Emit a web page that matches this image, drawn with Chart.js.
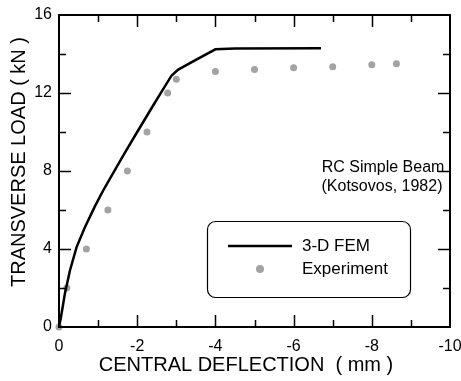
<!DOCTYPE html>
<html>
<head>
<meta charset="utf-8">
<script src="https://cdn.jsdelivr.net/npm/chart.js@4.4.1/dist/chart.umd.min.js"></script>
<style>
  body { margin: 0; background: #fff; }
  #wrap { width: 461px; height: 381px; position: relative; }
</style>
</head>
<body>
<div id="wrap"><canvas id="chart"></canvas></div>
<script>
// 3-D FEM curve
const femX = [0, -0.05, -0.15, -0.28, -0.45, -0.66, -0.92, -1.13, -1.3, -1.69, -2.0, -2.45, -2.88, -3.05, -3.5, -4.0, -4.5, -6.7];
const femY = [0, 0.5, 1.7, 2.9, 4.1, 5.1, 6.2, 7.0, 7.6, 8.95, 10.0, 11.5, 12.9, 13.2, 13.7, 14.24, 14.28, 14.3];

// experiment points
const expX = [0, -0.2, -0.7, -1.25, -1.75, -2.25, -2.78, -3.0, -4.0, -5.0, -6.0, -7.0, -8.0, -8.63];
const expY = [0, 2, 4, 6, 8, 10, 12, 12.7, 13.1, 13.2, 13.3, 13.35, 13.45, 13.5];

const xTicks = [0, -2, -4, -6, -8, -10];
const yTicks = [0, 4, 8, 12, 16];

const FONT = "'Liberation Sans', Arial, sans-serif";
const GREY = "#a3a3a3";

const toPoints = (xs, ys) => xs.map((x, i) => ({ x: x, y: ys[i] }));

// frame, inward ticks, titles, note and legend
const decor = {
  id: "decor",
  afterDraw(chart) {
    const ctx = chart.ctx;
    const a = chart.chartArea;
    const sx = chart.scales.x;
    const sy = chart.scales.y;
    ctx.save();
    ctx.strokeStyle = "#000";
    ctx.lineWidth = 2;
    ctx.strokeRect(a.left, a.top, a.right - a.left, a.bottom - a.top);

    ctx.lineWidth = 1.5;
    ctx.beginPath();
    for (let v = -1; v > -10; v--) {
      const px = Math.round(sx.getPixelForValue(v)) + 0.5;
      const len = v % 2 === 0 ? 12 : 7;
      ctx.moveTo(px, a.bottom); ctx.lineTo(px, a.bottom - len);
      ctx.moveTo(px, a.top); ctx.lineTo(px, a.top + len);
    }
    for (let v = 2; v < 16; v += 2) {
      const py = Math.round(sy.getPixelForValue(v)) + 0.5;
      const len = v % 4 === 0 ? 12 : 7;
      ctx.moveTo(a.left, py); ctx.lineTo(a.left + len, py);
      ctx.moveTo(a.right, py); ctx.lineTo(a.right - len, py);
    }
    ctx.stroke();

    ctx.fillStyle = "#000";
    ctx.textBaseline = "middle";
    ctx.font = "20px " + FONT;
    ctx.textAlign = "center";
    ctx.fillText("CENTRAL DEFLECTION  ( mm )", 246, 365);
    ctx.save();
    ctx.translate(19, 162);
    ctx.rotate(-Math.PI / 2);
    ctx.fillText("TRANSVERSE LOAD ( kN )", 0, 0);
    ctx.restore();

    ctx.font = "16px " + FONT;
    ctx.fillText("RC Simple Beam", 383, 168);
    ctx.fillText("(Kotsovos, 1982)", 382, 187);

    // legend box
    ctx.lineWidth = 1.2;
    ctx.beginPath();
    ctx.roundRect(207.5, 221.5, 203, 76, 8);
    ctx.stroke();
    ctx.lineWidth = 2.5;
    ctx.beginPath();
    ctx.moveTo(228, 246); ctx.lineTo(292, 246);
    ctx.stroke();
    ctx.fillStyle = GREY;
    ctx.beginPath();
    ctx.arc(260, 269, 4, 0, Math.PI * 2);
    ctx.fill();
    ctx.fillStyle = "#000";
    ctx.textAlign = "left";
    ctx.font = "17px " + FONT;
    ctx.fillText("3-D FEM", 302, 246);
    ctx.fillText("Experiment", 302, 269);
    ctx.restore();
  }
};

new Chart(document.getElementById("chart"), {
  type: "scatter",
  data: {
    datasets: [
      {
        label: "3-D FEM",
        data: toPoints(femX, femY),
        showLine: true,
        borderColor: "#000",
        borderWidth: 2.5,
        pointRadius: 0,
        tension: 0,
        fill: false
      },
      {
        label: "Experiment",
        data: toPoints(expX, expY),
        showLine: false,
        pointRadius: 3.5,
        pointBackgroundColor: GREY,
        pointBorderWidth: 0,
        clip: 5
      }
    ]
  },
  options: {
    responsive: true,
    maintainAspectRatio: false,
    animation: false,
    layout: { padding: { top: 15, right: 11, left: 0, bottom: 0 } },
    plugins: {
      legend: { display: false },
      tooltip: { enabled: false }
    },
    scales: {
      x: {
        type: "linear",
        min: -10,
        max: 0,
        reverse: true,
        afterBuildTicks: s => { s.ticks = xTicks.map(v => ({ value: v })); },
        afterFit: s => { s.height = 54; s.paddingLeft = 0; s.paddingRight = 0; },
        grid: { display: false, drawTicks: false },
        border: { display: false },
        ticks: { color: "#000", font: { family: FONT, size: 16 }, padding: 10, maxRotation: 0 }
      },
      y: {
        min: 0,
        max: 16,
        afterBuildTicks: s => { s.ticks = yTicks.map(v => ({ value: v })); },
        afterFit: s => { s.width = 59; s.paddingTop = 0; s.paddingBottom = 0; },
        grid: { display: false, drawTicks: false },
        border: { display: false },
        ticks: { color: "#000", font: { family: FONT, size: 16 }, padding: 7 }
      }
    }
  },
  plugins: [decor]
});
</script>
</body>
</html>
